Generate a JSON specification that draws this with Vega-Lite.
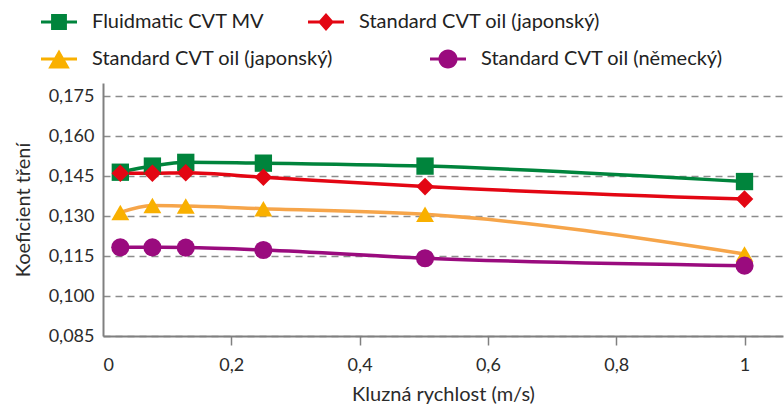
{
  "$schema": "https://vega.github.io/schema/vega-lite/v6.json",
  "width": 680,
  "height": 253,
  "autosize": {"type": "none"},
  "padding": {"left": 103, "top": 83, "right": 1, "bottom": 70},
  "background": "white",
  "config": {
    "font": "Lato",
    "view": {"stroke": null},
    "legend": {
      "orient": "none",
      "direction": "horizontal",
      "symbolSize": 1296,
      "symbolStrokeWidth": 0,
      "symbolOpacity": 1,
      "labelFontSize": 20,
      "labelColor": "#222222",
      "labelOffset": 15,
      "labelLimit": 400,
      "padding": 0,
      "titlePadding": 0
    }
  },
  "data": {
    "values": [
      {"id": "A", "x": 0.027, "y": 0.1465},
      {"id": "A", "x": 0.077, "y": 0.1488},
      {"id": "A", "x": 0.129, "y": 0.1502},
      {"id": "A", "x": 0.25, "y": 0.1499},
      {"id": "A", "x": 0.502, "y": 0.1488},
      {"id": "A", "x": 1.0, "y": 0.1430},
      {"id": "B", "x": 0.027, "y": 0.1461},
      {"id": "B", "x": 0.077, "y": 0.1461},
      {"id": "B", "x": 0.129, "y": 0.1463},
      {"id": "B", "x": 0.25, "y": 0.1446},
      {"id": "B", "x": 0.502, "y": 0.1411},
      {"id": "B", "x": 1.0, "y": 0.1364},
      {"id": "C", "x": 0.027, "y": 0.1314},
      {"id": "C", "x": 0.077, "y": 0.1340},
      {"id": "C", "x": 0.129, "y": 0.1338},
      {"id": "C", "x": 0.25, "y": 0.1328},
      {"id": "C", "x": 0.502, "y": 0.1307},
      {"id": "C", "x": 1.0, "y": 0.1158},
      {"id": "D", "x": 0.027, "y": 0.1183},
      {"id": "D", "x": 0.077, "y": 0.1183},
      {"id": "D", "x": 0.129, "y": 0.1182},
      {"id": "D", "x": 0.25, "y": 0.1173},
      {"id": "D", "x": 0.502, "y": 0.1142},
      {"id": "D", "x": 1.0, "y": 0.1114}
    ]
  },
  "layer": [
    {
      "mark": {"type": "line", "interpolate": "monotone", "strokeWidth": 3.5},
      "encoding": {
        "x": {
          "field": "x", "type": "quantitative",
          "scale": {"domain": [0, 1.06], "nice": false, "zero": false},
          "axis": {
            "values": [0, 0.2, 0.4, 0.6, 0.8, 1],
            "labelExpr": "replace(format(datum.value, '~g'), '.', ',')",
            "title": "Kluzná rychlost (m/s)",
            "grid": false,
            "domainColor": "#808080",
            "domainWidth": 2,
            "tickColor": {"condition": {"test": "datum.value === 0", "value": "transparent"}, "value": "#808080"},
            "tickWidth": 1.5,
            "tickSize": 9,
            "labelPadding": 11,
            "labelFontSize": 18,
            "labelColor": "#2b2b2b",
            "titleFontSize": 20,
            "titleFontWeight": "normal",
            "titleColor": "#2b2b2b",
            "titlePadding": 10
          }
        },
        "y": {
          "field": "y", "type": "quantitative",
          "scale": {"domain": [0.085, 0.18], "nice": false, "zero": false},
          "axis": {
            "values": [0.085, 0.1, 0.115, 0.13, 0.145, 0.16, 0.175],
            "labelExpr": "replace(format(datum.value, '.3f'), '.', ',')",
            "title": "Koeficient tření",
            "grid": true,
            "gridColor": "#8c8c8c",
            "gridWidth": 1.5,
            "gridDash": [7, 5],
            "domainColor": "#808080",
            "domainWidth": 2,
            "ticks": false,
            "labelPadding": 9,
            "labelFontSize": 18,
            "labelColor": "#2b2b2b",
            "titleFontSize": 20,
            "titleFontWeight": "normal",
            "titleColor": "#2b2b2b",
            "titlePadding": 15
          }
        },
        "stroke": {
          "field": "id", "type": "nominal",
          "scale": {"domain": ["A", "B", "C", "D"], "range": ["#00843c", "#e30613", "#f6a54a", "#9a0b7e"]},
          "legend": null
        }
      }
    },
    {
      "mark": {"type": "point", "filled": true, "opacity": 1},
      "encoding": {
        "x": {"field": "x", "type": "quantitative"},
        "y": {"field": "y", "type": "quantitative"},
        "color": {
          "field": "id", "type": "nominal",
          "scale": {"domain": ["A", "B", "C", "D"], "range": ["#00843c", "#e30613", "#f9b000", "#9a0b7e"]},
          "legend": null
        },
        "shape": {
          "field": "id", "type": "nominal",
          "scale": {"domain": ["A", "B", "C", "D"], "range": ["square", "diamond", "triangle-up", "circle"]},
          "legend": null
        },
        "size": {
          "field": "id", "type": "nominal",
          "scale": {"domain": ["A", "B", "C", "D"], "range": [300, 330, 440, 361]},
          "legend": null
        }
      }
    },
    {
      "transform": [{"filter": "datum.x > 5"}],
      "mark": {"type": "point", "filled": true, "opacity": 1},
      "encoding": {
        "x": {"field": "x", "type": "quantitative"},
        "y": {"field": "y", "type": "quantitative"},
        "fill": {
          "field": "id", "type": "nominal",
          "scale": {"domain": ["A", "B"], "range": ["#00843c", "#e30613"]},
          "legend": {
            "title": null,
            "legendX": -62,
            "legendY": -79,
            "columnPadding": 43,
            "labelExpr": "datum.label === 'A' ? 'Fluidmatic CVT MV' : 'Standard CVT oil (japonský)'"
          }
        },
        "shape": {
          "field": "id", "type": "nominal",
          "scale": {"domain": ["A", "B"], "range": [
            "M-1,-0.083H1V0.083H-1Z M-0.44,-0.44H0.44V0.44H-0.44Z",
            "M-1,-0.083H1V0.083H-1Z M0,-0.5L0.44,0L0,0.5L-0.44,0Z"
          ]},
          "legend": {
            "title": null,
            "legendX": -62,
            "legendY": -79,
            "columnPadding": 43,
            "labelExpr": "datum.label === 'A' ? 'Fluidmatic CVT MV' : 'Standard CVT oil (japonský)'"
          }
        }
      }
    },
    {
      "transform": [{"filter": "datum.x > 5"}],
      "mark": {"type": "point", "filled": true, "opacity": 1},
      "encoding": {
        "x": {"field": "x", "type": "quantitative"},
        "y": {"field": "y", "type": "quantitative"},
        "fill": {
          "field": "id", "type": "nominal",
          "scale": {"domain": ["C", "D"], "range": ["#f9b000", "#9a0b7e"]},
          "legend": {
            "title": null,
            "legendX": -62,
            "legendY": -42,
            "columnPadding": 97,
            "labelExpr": "datum.label === 'C' ? 'Standard CVT oil (japonský)' : 'Standard CVT oil (německý)'"
          }
        },
        "shape": {
          "field": "id", "type": "nominal",
          "scale": {"domain": ["C", "D"], "range": [
            "M-1,-0.083H1V0.083H-1Z M0,-0.53L0.6,0.53H-0.6Z",
            "M-1,-0.083H1V0.083H-1Z M0.53,0A0.53,0.53 0 1,1 -0.53,0A0.53,0.53 0 1,1 0.53,0Z"
          ]},
          "legend": {
            "title": null,
            "legendX": -62,
            "legendY": -42,
            "columnPadding": 97,
            "labelExpr": "datum.label === 'C' ? 'Standard CVT oil (japonský)' : 'Standard CVT oil (německý)'"
          }
        }
      }
    }
  ],
  "resolve": {
    "scale": {"shape": "independent", "fill": "independent"},
    "legend": {"shape": "independent", "fill": "independent"}
  }
}
